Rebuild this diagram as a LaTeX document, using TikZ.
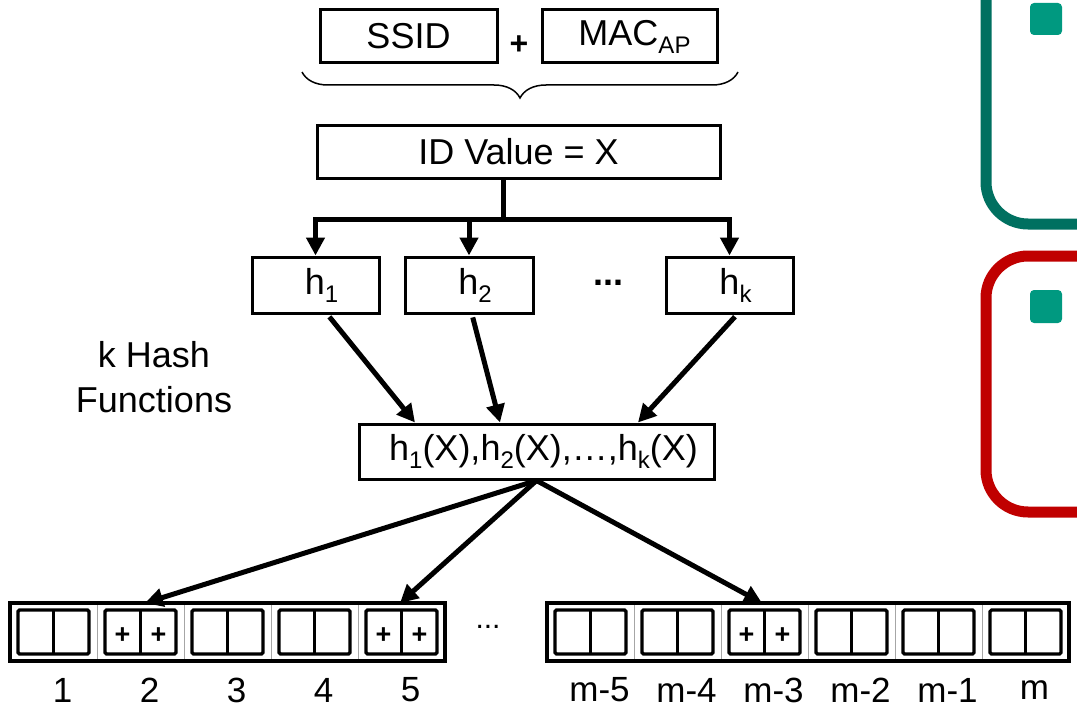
\documentclass[tikz,border=0pt]{standalone}
\usepackage{fontspec}
\setmainfont{Liberation Sans}
\usetikzlibrary{arrows.meta,decorations.pathreplacing}
\definecolor{kgreen}{RGB}{0,112,96}
\definecolor{kred}{RGB}{192,0,0}
\definecolor{ksq}{RGB}{0,153,128}
\newcommand{\lsub}[1]{\raisebox{-0.22em}{\fontsize{24}{24}\selectfont #1}}
\begin{document}
\begin{tikzpicture}[x=1pt,y=-1pt,
  box/.style={draw, line width=3pt, minimum height=53pt, inner sep=0pt,
              font=\fontsize{36}{43}\selectfont},
  conn/.style={line width=5pt},
  arr/.style={line width=5pt, -{Triangle[length=18pt,width=18pt]}},
  cellbox/.style={draw=gray!70, line width=0.8pt, minimum width=87pt,
              minimum height=58pt, inner sep=0pt, outer sep=0pt},
  innerbox/.style={line width=3.2pt, rounded corners=1.5pt},
  plus/.style={font=\fontsize{27}{27}\selectfont\bfseries, inner sep=0pt},
  lbl/.style={font=\fontsize{35}{40}\selectfont, inner sep=0pt},
  frame/.style={line width=11pt, rounded corners=42pt}
]
\useasboundingbox (0,0) rectangle (1077,709);
\clip (0,0) rectangle (1077,709);
\fill[white] (0,0) rectangle (1077,709);

% top boxes
\node[box, minimum width=177pt] (ssid) at (408.5,36.5) {SSID};
\node[plus, font=\fontsize{32}{32}\selectfont\bfseries] (pl) at (519,45) {+};
\node[box, minimum width=175pt] (mac) at (629.5,36.5) {\hspace{10pt}MAC\lsub{AP}};

% brace
\coordinate (brL) at (302,72);
\coordinate (brR) at (738,72);
\draw[line width=1.5pt, decorate, decoration={brace, amplitude=26pt, mirror}] (brL) -- (brR);

% ID box
\node[box, minimum width=403pt] (id) at (518.5,151.5) {ID Value = X};

% hash boxes
\node[box, minimum width=127pt, minimum height=56pt] (h1) at (315.5,285) {\hspace{12pt}h\lsub{1}};
\node[box, minimum width=128pt, minimum height=56pt] (h2) at (469,285) {\hspace{12pt}h\lsub{2}};
\node[font=\fontsize{36}{36}\selectfont\bfseries, inner sep=0pt] (hdots) at (608,283) {...};
\node[box, minimum width=127pt, minimum height=56pt] (hk) at (729.5,285) {\hspace{12pt}h\lsub{k}};

\coordinate (j) at (503,219);
\draw[conn] (id.south -| j) -- (j);
\draw[arr] (j) -| (h1);
\draw[arr] (j) -| (h2);
\draw[arr] (j) -| (hk);

\node[align=center, font=\fontsize{36}{45}\selectfont, inner sep=0pt] (kh) at (154,377) {k Hash\\Functions};

% combined box
\node[box, minimum width=355pt, minimum height=55pt] (hx) at (536.5,451.5)
  {\hspace{14pt}h\lsub{1}(X),h\lsub{2}(X),…,h\lsub{k}(X)};

\draw[arr, shorten <=3pt] ([xshift=12pt]h1.south) -- ([xshift=-121.5pt]hx.north);
\draw[arr, shorten <=3pt] ([xshift=3pt]h2.south) -- ([xshift=-36.5pt]hx.north);
\draw[arr, shorten <=3pt] ([xshift=7.5pt]hk.south) -- ([xshift=101.5pt]hx.north);

% array cells, left part
\foreach \i/\x in {1/53.5,2/140.5,3/227.5,4/314.5,5/401.5}{
  \node[cellbox] (c\i) at (\x,632) {};
  \draw[innerbox] ([shift={(8pt,-7pt)}]c\i.north west) rectangle ([shift={(-8pt,7pt)}]c\i.south east);
  \draw[line width=3.2pt] ([yshift=-7pt]c\i.north) -- ([yshift=7pt]c\i.south);
  \node[lbl] (lc\i) at ([xshift=9pt,yshift=-29pt]c\i.south) {\i};
}
\draw[line width=3.2pt] (c1.north west) rectangle (c5.south east);

% array cells, right part
\foreach \i/\x/\t in {1/590.5/m-5,2/677.5/m-4,3/764.5/m-3,4/851.5/m-2,5/938.5/m-1,6/1025.5/m}{
  \node[cellbox] (d\i) at (\x,632) {};
  \draw[innerbox] ([shift={(8pt,-7pt)}]d\i.north west) rectangle ([shift={(-8pt,7pt)}]d\i.south east);
  \draw[line width=3.2pt] ([yshift=-7pt]d\i.north) -- ([yshift=7pt]d\i.south);
  \node[lbl] (ld\i) at ([xshift=9pt,yshift=-29pt]d\i.south) {\t};
}
\draw[line width=3.2pt] (d1.north west) rectangle (d6.south east);

\node[font=\fontsize{30}{30}\selectfont, inner sep=0pt] (adots) at (488,627) {...};

% plus marks
\foreach \c in {c2,c5,d3}{
  \node[plus] at ([xshift=-18pt,yshift=-4pt]\c.center) {+};
  \node[plus] at ([xshift=18pt,yshift=-4pt]\c.center) {+};
}

% output arrows
\draw[arr] (hx.south) -- ([xshift=4.5pt]c2.north);
\draw[arr] (hx.south) -- ([xshift=-1.5pt]c5.north);
\draw[arr] (hx.south) -- ([xshift=-2.5pt]d3.north);

% right-hand frames
\draw[kgreen, frame] (1300,-100) -- (986,-100) -- (986,224) -- (1300,224);
\draw[kred, frame] (1300,256) -- (986,256) -- (986,512) -- (1300,512);
\fill[ksq, rounded corners=4pt] (1030,3) rectangle (1062,35);
\fill[ksq, rounded corners=4pt] (1030,290) rectangle (1062,323);
\end{tikzpicture}
\end{document}
